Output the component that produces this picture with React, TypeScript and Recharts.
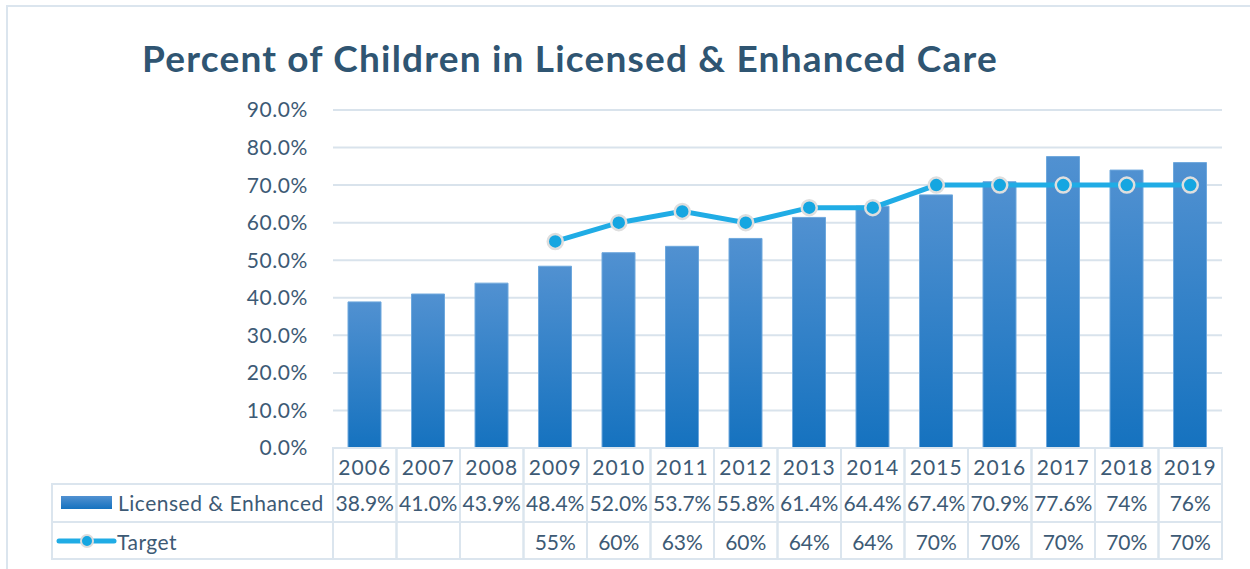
import React from 'react';
import { ComposedChart, Bar, Line, XAxis, YAxis, CartesianGrid } from 'recharts';

const years = ['2006', '2007', '2008', '2009', '2010', '2011', '2012', '2013', '2014', '2015', '2016', '2017', '2018', '2019'];
const licensed = [38.9, 41.0, 43.9, 48.4, 52.0, 53.7, 55.8, 61.4, 64.4, 67.4, 70.9, 77.6, 74, 76];
const licensedLabels = ['38.9%', '41.0%', '43.9%', '48.4%', '52.0%', '53.7%', '55.8%', '61.4%', '64.4%', '67.4%', '70.9%', '77.6%', '74%', '76%'];
const target = [null, null, null, 55, 60, 63, 60, 64, 64, 70, 70, 70, 70, 70];
const targetLabels = ['', '', '', '55%', '60%', '63%', '60%', '64%', '64%', '70%', '70%', '70%', '70%', '70%'];
const yTicks = [0, 10, 20, 30, 40, 50, 60, 70, 80, 90];

const data = years.map((year, i) => ({ year, licensed: licensed[i], target: target[i] }));

// layout
const W = 1250;
const H = 569;
const PLOT_LEFT = 333;
const PLOT_RIGHT = 1222;
const PLOT_TOP = 110;
const PLOT_BOTTOM = 448;
const COL_W = (PLOT_RIGHT - PLOT_LEFT) / years.length;
const ROWS = [448, 484, 522, 559];
const TEXT_Y = [466, 502, 541];
const LEGEND_LEFT = 52;

const FONT = 'Lato, "Open Sans", sans-serif';
const TEXT = '#3d5a75';
const BORDER = '#dbe5ee';
const LINE_COLOR = '#20ace5';
const DOT_FILL = '#15a6e1';

const LegendColumn = () => (
  <g>
    <rect x={LEGEND_LEFT} y={ROWS[1]} width={PLOT_LEFT - LEGEND_LEFT} height={ROWS[3] - ROWS[1]} fill="none" stroke={BORDER} strokeWidth={2} />
    <line x1={LEGEND_LEFT} x2={PLOT_LEFT} y1={ROWS[2]} y2={ROWS[2]} stroke={BORDER} strokeWidth={2} />
    <rect x={61} y={496} width={51} height={13} fill="url(#barGrad)" />
    <text x={118} y={TEXT_Y[1]} dominantBaseline="central" fontSize={21} letterSpacing={0.5} fill={TEXT} fontFamily={FONT}>
      Licensed &amp; Enhanced
    </text>
    <line x1={59} x2={114} y1={541} y2={541} stroke={LINE_COLOR} strokeWidth={5} strokeLinecap="round" />
    <circle cx={87} cy={541} r={6} fill={DOT_FILL} stroke="#dcdcdc" strokeWidth={2} />
    <text x={117} y={TEXT_Y[2]} dominantBaseline="central" fontSize={21} letterSpacing={0.5} fill={TEXT} fontFamily={FONT}>
      Target
    </text>
  </g>
);

const TableTick = (props: any) => {
  const { x, index, payload } = props;
  const left = x - COL_W / 2;
  const cells = [payload.value, licensedLabels[index], targetLabels[index]];
  return (
    <g>
      {index === 0 && <LegendColumn />}
      <rect x={left} y={ROWS[0]} width={COL_W} height={ROWS[3] - ROWS[0]} fill="none" stroke={BORDER} strokeWidth={2} />
      <line x1={left} x2={left + COL_W} y1={ROWS[1]} y2={ROWS[1]} stroke={BORDER} strokeWidth={2} />
      <line x1={left} x2={left + COL_W} y1={ROWS[2]} y2={ROWS[2]} stroke={BORDER} strokeWidth={2} />
      {cells.map((c, r) => (
        <text
          key={r}
          x={x}
          y={TEXT_Y[r]}
          textAnchor="middle"
          dominantBaseline="central"
          fontSize={21}
          letterSpacing={r === 0 ? 1.1 : 0}
          fill={TEXT}
          fontFamily={FONT}
        >
          {c}
        </text>
      ))}
    </g>
  );
};

const TargetDot = (props: any) => {
  const { cx, cy, value } = props;
  if (value == null || cy == null) return <g />;
  return <circle cx={cx} cy={cy} r={7.5} fill={DOT_FILL} stroke="#dedede" strokeWidth={2.5} />;
};

export default function App() {
  return (
    <div style={{ position: 'absolute', left: 0, top: 0, width: W, height: H, overflow: 'hidden', background: '#fff' }}>
      <div
        style={{
          position: 'absolute',
          left: 6,
          top: 5,
          width: W + 20,
          height: H + 20,
          border: `2px solid ${BORDER}`,
          boxSizing: 'border-box',
        }}
      />
      <div
        style={{
          position: 'absolute',
          left: 0,
          width: 1140,
          top: 34,
          textAlign: 'center',
          fontFamily: FONT,
          fontWeight: 700,
          fontSize: 37,
          letterSpacing: 1.2,
          color: '#2f5572',
          lineHeight: '48px',
        }}
      >
        Percent of Children in Licensed &amp; Enhanced Care
      </div>
      <ComposedChart
        width={W}
        height={H}
        data={data}
        margin={{ top: PLOT_TOP, right: W - PLOT_RIGHT, bottom: 0, left: PLOT_LEFT - 60 }}
        style={{ position: 'absolute', left: 0, top: 0 }}
      >
        <defs>
          <linearGradient id="barGrad" x1="0" y1="0" x2="0" y2="1">
            <stop offset="0%" stopColor="#5191d1" />
            <stop offset="100%" stopColor="#1572bf" />
          </linearGradient>
        </defs>
        <CartesianGrid vertical={false} stroke="#d9e3ec" strokeWidth={2} />
        <XAxis
          dataKey="year"
          height={H - PLOT_BOTTOM}
          axisLine={false}
          tickLine={false}
          tickSize={0}
          tickMargin={0}
          interval={0}
          tick={<TableTick />}
        />
        <YAxis
          width={60}
          domain={[0, 90]}
          ticks={yTicks}
          axisLine={false}
          tickLine={false}
          tickSize={0}
          tickMargin={25}
          tickFormatter={(v: number) => `${v.toFixed(1)}%`}
          tick={{ fontSize: 21, fill: TEXT, fontFamily: FONT, letterSpacing: 0.6 }}
        />
        <Bar dataKey="licensed" barSize={33} fill="url(#barGrad)" stroke="#6ea8dd" strokeWidth={1} isAnimationActive={false} />
        <Line
          dataKey="target"
          type="linear"
          stroke={LINE_COLOR}
          strokeWidth={5}
          dot={<TargetDot />}
          activeDot={false}
          connectNulls={false}
          isAnimationActive={false}
        />
      </ComposedChart>
    </div>
  );
}
